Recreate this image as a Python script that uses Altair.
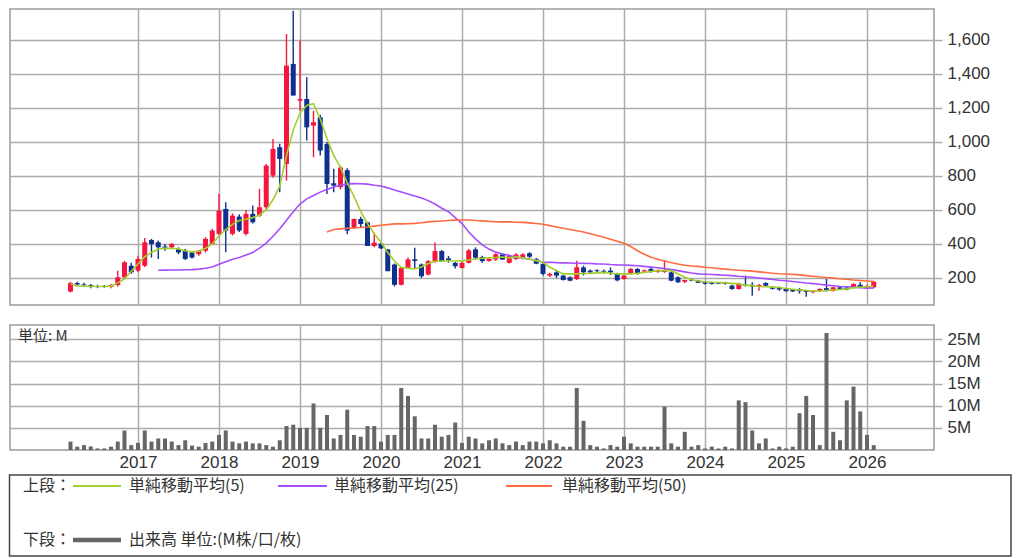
import altair as alt
import pandas as pd

# ---------------- data (monthly) ----------------
months = [
    "2016-03","2016-04","2016-05","2016-06","2016-07","2016-08","2016-09","2016-10","2016-11","2016-12",
    "2017-01","2017-02","2017-03","2017-04","2017-05","2017-06","2017-07","2017-08","2017-09","2017-10","2017-11","2017-12",
    "2018-01","2018-02","2018-03","2018-04","2018-05","2018-06","2018-07","2018-08","2018-09","2018-10","2018-11","2018-12",
    "2019-01","2019-02","2019-03","2019-04","2019-05","2019-06","2019-07","2019-08","2019-09","2019-10","2019-11","2019-12",
    "2020-01","2020-02","2020-03","2020-04","2020-05","2020-06","2020-07","2020-08","2020-09","2020-10","2020-11","2020-12",
    "2021-01","2021-02","2021-03","2021-04","2021-05","2021-06","2021-07","2021-08","2021-09","2021-10","2021-11","2021-12",
    "2022-01","2022-02","2022-03","2022-04","2022-05","2022-06","2022-07","2022-08","2022-09","2022-10","2022-11","2022-12",
    "2023-01","2023-02","2023-03","2023-04","2023-05","2023-06","2023-07","2023-08","2023-09","2023-10","2023-11","2023-12",
    "2024-01","2024-02","2024-03","2024-04","2024-05","2024-06","2024-07","2024-08","2024-09","2024-10","2024-11","2024-12",
    "2025-01","2025-02","2025-03","2025-04","2025-05","2025-06","2025-07","2025-08","2025-09","2025-10","2025-11","2025-12",
    "2026-01","2026-02",
]
opens = [
    120,170,162,158,152,150,148,158,204,272,
    243,272,423,410,385,380,370,360,350,340,360,400,
    459,606,459,561,459,577,567,616,802,969,871,1459,
    1243,1253,1096,1145,988,757,734,834,497,547,527,388,
    402,368,279,160,259,310,279,220,299,358,315,289,
    259,289,368,323,300,309,339,289,312,319,345,312,
    282,214,233,214,204,194,262,243,245,242,243,224,
    194,224,253,238,253,236,235,233,204,178,190,184,
    175,172,170,175,155,135,160,160,150,170,148,143,
    135,131,135,125,116,125,140,125,145,143,145,160,
    140,145,
]
highs = [
    178,178,172,165,160,158,165,243,300,290,
    330,435,430,420,400,405,380,370,355,365,440,490,
    694,645,580,575,600,626,724,871,1018,990,1635,1772,
    1596,1380,1184,1160,1000,842,861,845,550,560,530,467,
    410,370,285,265,320,378,285,305,408,365,330,295,
    295,370,380,330,318,345,345,335,345,345,352,318,
    290,230,243,218,210,302,272,250,252,250,262,230,
    218,258,258,250,258,250,306,240,210,190,195,188,
    180,178,175,178,160,172,214,175,165,175,152,150,
    140,135,140,130,128,140,194,148,150,148,168,175,
    160,180,
]
lows = [
    115,155,150,140,140,142,140,150,195,225,
    235,265,320,312,360,370,340,305,315,330,350,395,
    450,351,450,470,450,520,560,600,790,704,773,1273,
    1184,1008,910,920,694,704,720,457,490,500,388,380,
    370,240,150,155,255,259,200,215,290,295,290,255,
    255,285,310,290,295,300,305,285,305,310,318,280,
    215,205,200,185,180,188,215,228,228,225,218,180,
    190,220,220,230,230,230,230,180,170,170,180,170,
    162,162,164,160,130,130,150,96,125,150,132,125,
    120,118,108,90,110,118,120,120,135,128,140,145,
    135,140,
]
closes = [
    170,162,158,152,150,148,158,204,292,233,
    312,410,400,380,378,400,350,312,320,360,430,479,
    596,479,567,479,577,528,616,861,959,900,1449,1273,
    1253,1086,1116,949,753,743,850,479,547,517,388,408,
    374,240,160,259,309,300,210,299,358,299,305,269,
    289,362,319,299,312,339,309,329,338,339,325,284,
    224,224,214,188,184,263,233,233,240,236,233,186,
    214,253,224,245,235,245,245,184,175,188,184,172,
    166,165,166,165,135,165,154,150,158,155,136,132,
    122,121,122,118,125,135,125,145,136,132,165,148,
    150,178,
]
ma5 = [
    165,153,152,150,150,150,152,171,195,240,
    282,325,350,370,374,375,370,360,353,358,375,400,
    447,485,515,538,545,555,570,600,660,740,920,1070,
    1170,1215,1225,1135,1020,920,850,760,680,590,520,460,
    410,350,300,262,258,253,265,285,298,300,300,300,
    302,306,312,316,318,320,323,318,325,318,312,302,
    292,263,244,224,224,224,226,227,230,233,228,224,
    224,224,228,233,238,243,243,243,225,204,190,182,
    178,175,173,171,168,165,158,155,150,148,146,144,
    138,134,130,126,124,122,126,129,132,136,142,145,
    148,153,
]
ma25 = [
    None,None,None,None,None,None,None,None,None,None,
    None,None,None,245,246,247,247,248,249,252,257,264,
    280,295,310,320,335,350,375,405,445,490,540,590,
    635,665,685,705,720,735,745,752,755,754,752,745,
    741,730,718,706,694,682,670,655,635,610,590,555,
    520,470,430,395,370,352,341,333,322,316,310,305,
    292,292,290,289,288,287,286,285,283,282,279,277,
    276,274,272,268,264,260,255,250,243,236,229,224,
    222,220,218,216,214,210,207,204,199,196,191,187,
    184,179,175,170,167,163,158,154,150,148,146,143,
    140,141,
]
ma50 = [
    None,None,None,None,None,None,None,None,None,None,
    None,None,None,None,None,None,None,None,None,None,None,None,
    None,None,None,None,None,None,None,None,None,None,None,None,
    None,None,None,None,471,485,489,492,494,497,500,505,
    510,514,518,518,519,521,525,530,533,535,538,540,
    541,541,538,536,533,531,530,530,528,527,524,520,
    516,508,500,492,485,478,470,460,450,440,428,416,
    404,385,360,340,322,310,300,290,282,275,270,268,
    263,260,256,252,248,245,243,240,236,232,228,225,
    223,221,218,214,210,206,203,199,195,192,188,185,
    182,180,
]
volumes_m = [
    1.9,0.75,1.1,0.8,0.35,0.35,0.75,1.9,4.4,1.1,
    1.6,4.4,1.9,2.6,2.6,1.9,1.1,2.2,1.0,0.75,1.6,1.9,
    3.4,4.4,1.9,1.5,1.9,1.5,1.5,1.1,0.75,2.2,5.4,5.7,
    5.0,5.0,10.5,5.0,7.9,2.6,3.4,9.1,3.4,3.0,5.4,5.4,
    1.9,3.4,3.4,14.0,12.2,7.6,2.6,2.6,5.7,3.0,3.4,6.2,
    1.6,3.0,2.6,1.5,2.2,2.6,1.5,1.1,1.9,1.1,1.9,1.9,
    1.5,2.2,1.5,0.75,0.75,14.0,6.6,1.1,0.75,0.35,1.1,0.75,
    3.0,1.5,0.75,0.75,0.75,0.75,9.8,1.5,0.75,4.1,0.75,1.1,
    0.35,0.75,0.35,0.75,0.35,11.2,10.8,4.4,1.5,2.6,0.35,0.75,
    0.35,0.75,8.3,12.2,7.9,1.1,26.4,4.1,2.2,11.2,14.3,8.7,
    3.4,1.1,
]
year_ticks = [2017, 2018, 2019, 2020, 2021, 2022, 2023, 2024, 2025, 2026]
price_ticks = [200, 400, 600, 800, 1000, 1200, 1400, 1600]
volume_ticks = [5, 10, 15, 20, 25]
legend_upper = ["単純移動平均(5)", "単純移動平均(25)", "単純移動平均(50)"]
legend_lower = "出来高 単位:(M株/口/枚)"

# ---------------- table ----------------
df = pd.DataFrame({
    "month": months, "open": opens, "high": highs, "low": lows, "close": closes,
    "ma5": ma5, "ma25": ma25, "ma50": ma50, "volume": volumes_m,
})
df["t"] = [int(m[:4]) + (int(m[5:]) - 1) / 12 for m in months]

RED = "#f5163f"
BLUE = "#10308f"
C5 = "#a3cf2e"
C25 = "#a64dff"
C50 = "#ff6a40"
VOLC = "#666666"
TXT = "#333333"
GRID = "#ababab"

W = 924
XDOM = [2015.4198, 2026.8272]
xscale = alt.Scale(domain=XDOM, nice=False, zero=False, padding=0)

x_upper = alt.X("t:Q", scale=xscale,
                axis=alt.Axis(values=year_ticks, labels=False, ticks=False, domain=False,
                              grid=True, title=None))
x_lower = alt.X("t:Q", scale=xscale,
                axis=alt.Axis(values=year_ticks, format="d", ticks=False, domain=False,
                              grid=True, title=None, labelPadding=4))

yscale = alt.Scale(domain=[41, 1782], nice=False, zero=False, padding=0)
price_axis = alt.Axis(orient="right", values=price_ticks, format=",d", title=None,
                      tickSize=8, domain=False, grid=True, labelPadding=5)

base = alt.Chart(df)
up_cond = alt.condition("datum.close >= datum.open", alt.value(RED), alt.value(BLUE))

wicks = base.mark_rule(strokeWidth=1.4, clip=True).encode(
    x=x_upper, y=alt.Y("low:Q", scale=yscale, axis=price_axis), y2="high:Q", color=up_cond)
bodies = base.mark_bar(size=5, clip=True).encode(
    x=x_upper, y=alt.Y("open:Q", scale=yscale), y2="close:Q", color=up_cond)
l5 = base.mark_line(color=C5, strokeWidth=1.6, clip=True).encode(
    x=x_upper, y=alt.Y("ma5:Q", scale=yscale))
l25 = base.mark_line(color=C25, strokeWidth=1.6, clip=True).encode(
    x=x_upper, y=alt.Y("ma25:Q", scale=yscale))
l50 = base.mark_line(color=C50, strokeWidth=1.6, clip=True).encode(
    x=x_upper, y=alt.Y("ma50:Q", scale=yscale))

upper = alt.layer(wicks, bodies, l25, l50, l5).properties(width=W, height=296)

# ---------------- lower: volume + legend ----------------
vscale = alt.Scale(domain=[0, 28.2], nice=False, zero=True, padding=0)
vol_axis = alt.Axis(orient="right", values=volume_ticks, labelExpr="datum.value + 'M'",
                    title=None, tickSize=8, domain=False, grid=True, labelPadding=5)
vol = base.mark_bar(size=4, color=VOLC).encode(
    x=x_lower, y=alt.Y("volume:Q", scale=vscale, axis=vol_axis))

one = pd.DataFrame({"k": [0]})
CJK = "Noto Sans CJK JP"


def txt(s, x, y, size=16):
    return alt.Chart(one).mark_text(text=s, align="left", baseline="middle", font=CJK,
                                    fontSize=size, color=TXT).encode(
        x=alt.value(x), y=alt.value(y))


def seg(x1, x2, y, color, w):
    return alt.Chart(one).mark_rule(color=color, strokeWidth=w).encode(
        x=alt.value(x1), x2=alt.value(x2), y=alt.value(y))


unit_label = txt("単位: M", 8, 11, 15)
box = alt.Chart(one).mark_rect(fill=None, stroke="#444444", strokeWidth=1.5).encode(
    x=alt.value(-0.5), x2=alt.value(1001), y=alt.value(150), y2=alt.value(231))

legend_layers = [
    box,
    txt("上段：", 13, 161), seg(63, 111, 161, C5, 2), txt(legend_upper[0], 119, 161),
    seg(268, 317, 161, C25, 2), txt(legend_upper[1], 324, 161),
    seg(496, 542, 161, C50, 2), txt(legend_upper[2], 552, 161),
    txt("下段：", 13, 215), seg(63, 111, 215, VOLC, 4.5), txt(legend_lower, 119, 215),
]

lower = alt.layer(vol, unit_label, *legend_layers).properties(width=W, height=125)

chart = alt.vconcat(upper, lower, spacing=18).properties(
    padding={"left": 0, "top": 0, "right": 0, "bottom": 0},
    background="white",
).configure_view(
    stroke="#9a9a9a", strokeWidth=1.5
).configure_axis(
    gridColor=GRID, gridWidth=1.5, tickColor=GRID, tickWidth=1.5,
    labelFont="Liberation Sans", labelFontSize=17, labelColor=TXT
)

chart.save("out.html", embed_options={"renderer": "svg", "actions": False})
